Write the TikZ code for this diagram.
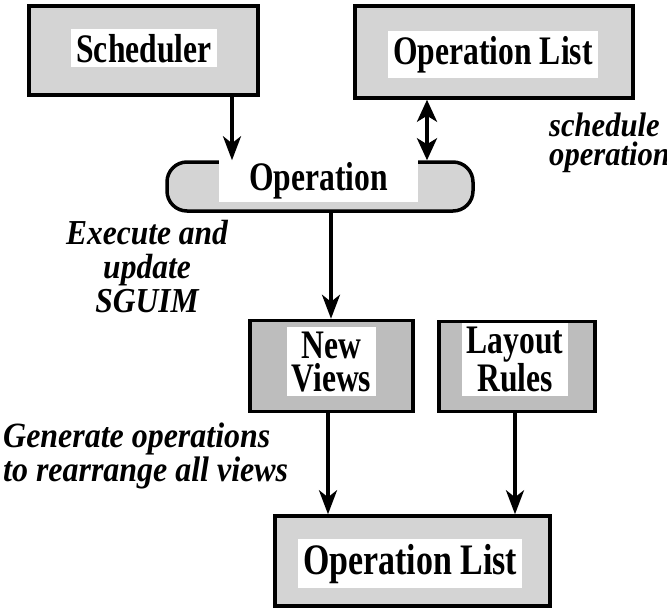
\documentclass[tikz,border=0pt]{standalone}
\usepackage{fontspec}
\newfontfamily\boxfont[FakeStretch=0.78]{Liberation Serif}
\newfontfamily\labfont[FakeStretch=0.9]{Liberation Serif}
\usetikzlibrary{arrows.meta}
\definecolor{stipA}{HTML}{D4D4D4}
\definecolor{stipB}{HTML}{BDBDBD}
\tikzset{
  boxshape/.style={draw=black, line width=3.5pt, fill=stipA, inner sep=0pt},
  darkbox/.style={boxshape, fill=stipB},
  boxtext/.style={fill=white, inner xsep=5pt, inner ysep=5pt, align=center,
    font=\boxfont\bfseries\fontsize{40.5}{33}\selectfont},
  labtext/.style={inner sep=0pt, font=\labfont\bfseries\itshape\fontsize{35}{34}\selectfont},
  arr/.style={line width=3.5pt, -{Stealth[length=24pt,width=18pt,inset=7pt]}},
  dblarr/.style={line width=3.5pt, {Stealth[length=22pt,width=20pt,inset=6pt]}-{Stealth[length=22pt,width=20pt,inset=6pt]}},
}
\begin{document}
\begin{tikzpicture}[x=1pt,y=-1pt]
\clip (0,0) rectangle (667,611);
% boxes
\node[boxshape, minimum width=229pt, minimum height=89pt] (sched) at (143.5,50.5) {};
\node[boxshape, minimum width=278pt, minimum height=92pt] (ol1) at (494,52) {};
\node[boxshape, rounded corners=20pt, minimum width=306pt, minimum height=49pt] (op) at (320,186.5) {};
\node[darkbox, minimum width=163pt, minimum height=91pt] (nv) at (331.5,366) {};
\node[darkbox, minimum width=156pt, minimum height=90pt] (lr) at (517,366.5) {};
\node[boxshape, minimum width=275pt, minimum height=90pt] (ol2) at (412.5,561) {};
% box texts
\node[boxtext, anchor=base] (schedT) at (144,62) {Scheduler};
\node[boxtext, anchor=base] (ol1T) at (493,64) {Operation List};
\node[boxtext, anchor=base, inner xsep=30pt, inner ysep=3pt] (opT) at (318.5,190) {Operation};
\node[boxtext, anchor=base, inner ysep=4pt] (nvT) at (331.5,391) {New\\Views};
\node[boxtext, anchor=base, inner ysep=4pt] (lrT) at (515,391) {Layout\\Rules};
\node[boxtext, anchor=base, font=\boxfont\bfseries\fontsize{43.5}{36}\selectfont] (ol2T) at (410,574) {Operation List};
% connectors
\coordinate (xa) at (232,0);
\coordinate (xb) at (427,0);
\coordinate (xc) at (331,0);
\coordinate (xd) at (328,0);
\coordinate (xe) at (515,0);
\draw[arr] (sched.south -| xa) -- (op.north -| xa);
\draw[dblarr] (ol1.south -| xb) -- (op.north -| xb);
\draw[arr] (op.south -| xc) -- (nv.north -| xc);
\draw[arr] (nv.south -| xd) -- (ol2.north -| xd);
\draw[arr] (lr.south -| xe) -- (ol2.north -| xe);
% labels
\node[labtext, align=center, anchor=base] (exec) at (147,312) {Execute and\\update\\SGUIM};
\node[labtext, align=left, anchor=base west, font=\labfont\bfseries\itshape\fontsize{35.5}{31}\selectfont] (gen) at (3,481) {Generate operations\\to rearrange all views};
\node[labtext, align=left, anchor=base west, font=\labfont\bfseries\itshape\fontsize{34}{29}\selectfont] (sch) at (549,165) {schedule\\operation};
\end{tikzpicture}
\end{document}
